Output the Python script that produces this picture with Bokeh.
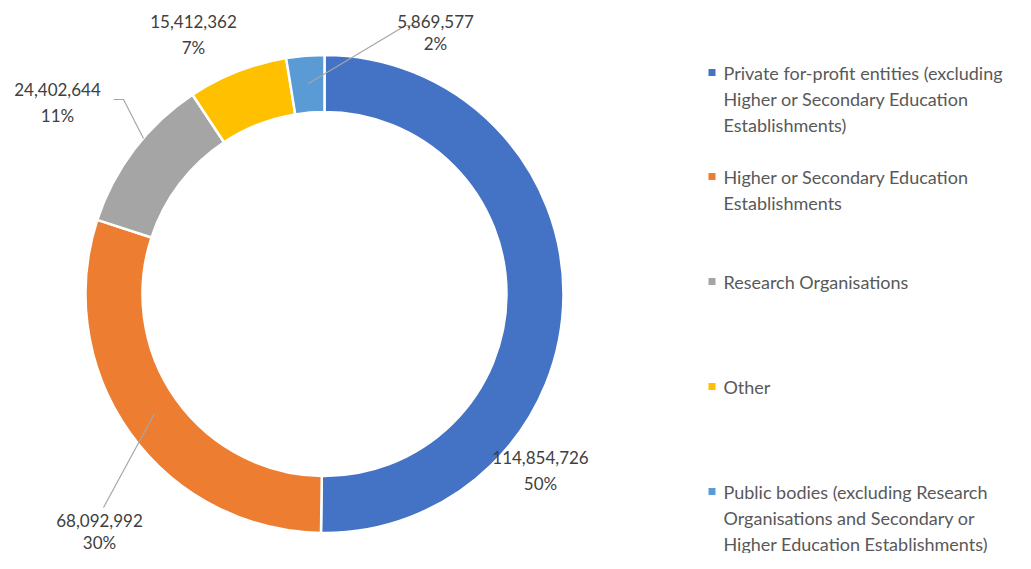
from bokeh.plotting import figure
from bokeh.models import Range1d
from bokeh.embed import file_html
from bokeh.resources import INLINE
from bokeh.core.properties import value
import math

# ---- data ----
categories = [
    "Private for-profit entities (excluding\nHigher or Secondary Education\nEstablishments)",
    "Higher or Secondary Education\nEstablishments",
    "Research Organisations",
    "Other",
    "Public bodies (excluding Research\nOrganisations and Secondary or\nHigher Education Establishments)",
]
amounts = [114854726, 68092992, 24402644, 15412362, 5869577]
pct_labels = ["50%", "30%", "11%", "7%", "2%"]
colors = ["#4472C4", "#ED7D31", "#A5A5A5", "#FFC000", "#5B9BD5"]

# ---- layout (screen px of the 1031x569 reference) ----
W, H = 1031, 569
PW, PH = W - 16, H - 16
def Y(yscreen):
    return H - yscreen

CX, CY = 324, 293.5
R_OUT, R_IN = 239, 182
FONT = "Lato"

p = figure(width=PW, height=PH, output_backend="svg", toolbar_location=None,
           x_range=Range1d(0, PW), y_range=Range1d(H - PH, H),
           min_border=0, min_border_left=0, min_border_right=0,
           min_border_top=0, min_border_bottom=0)
p.axis.visible = False
p.grid.visible = False
p.outline_line_color = None
p.background_fill_color = "white"
p.border_fill_color = "white"

total = sum(amounts)
cum = 0.0
starts, ends = [], []
for a in amounts:
    f0 = cum / total
    cum += a
    f1 = cum / total
    starts.append(math.pi / 2 - 2 * math.pi * f1)
    ends.append(math.pi / 2 - 2 * math.pi * f0)

p.annular_wedge(x=[CX] * len(amounts), y=[Y(CY)] * len(amounts),
                inner_radius=R_IN, outer_radius=R_OUT,
                start_angle=starts, end_angle=ends,
                fill_color=colors, line_color="white", line_width=2.5)

# leader lines
leaders_x = [[154, 103], [113, 123, 143], [308, 405, 415]]
leaders_y = [[Y(413), Y(507)], [Y(99), Y(99), Y(138)], [Y(83), Y(25), Y(25)]]
p.multi_line(xs=leaders_x, ys=leaders_y, line_color="#A6A6A6", line_width=1.2)

# data labels (value line, percent line)
label_pos = [(540, 457, 26), (99, 520, 22), (57, 89, 26), (193, 21, 26), (435, 21, 22)]
vx = [pos[0] for pos in label_pos]
vy = [Y(pos[1]) for pos in label_pos]
py = [Y(pos[1] + pos[2]) for pos in label_pos]
p.text(x=vx, y=vy, text=[f"{a:,}" for a in amounts], text_align="center",
       text_baseline="middle", text_font=value(FONT), text_font_size="17px",
       text_color="#404040")
p.text(x=vx, y=py, text=pct_labels, text_align="center",
       text_baseline="middle", text_font=value(FONT), text_font_size="17px",
       text_color="#404040")

# legend
leg_y = [72, 176, 281, 386, 491]
p.rect(x=[711.5] * 5, y=[Y(v) for v in leg_y], width=7, height=7,
       fill_color=colors, line_color=None)
lx, ly, lt = [], [], []
for cat, y0 in zip(categories, leg_y):
    for i, line in enumerate(cat.split("\n")):
        lx.append(723)
        ly.append(Y(y0 + 26 * i))
        lt.append(line)
p.text(x=lx, y=ly, text=lt, text_align="left", text_baseline="middle",
       text_font=value(FONT), text_font_size="18px", text_color="#595959")

open("out.html", "w").write(file_html(p, INLINE))
